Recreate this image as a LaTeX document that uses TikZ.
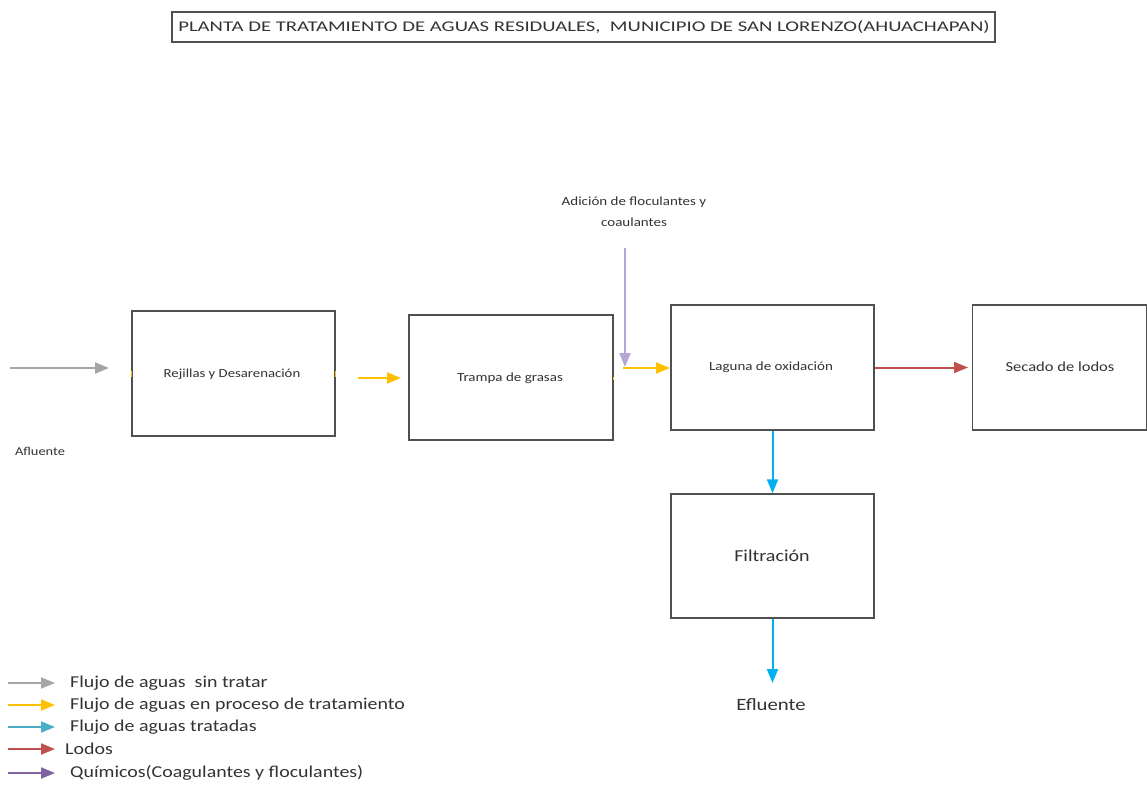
\documentclass[tikz,border=0pt]{standalone}
\usepackage{fontspec}
\setmainfont{Carlito}
\usetikzlibrary{arrows.meta}
\definecolor{boxline}{HTML}{505050}
\definecolor{raw}{HTML}{A6A6A6}
\definecolor{proc}{HTML}{FFC000}
\definecolor{clean}{HTML}{00B0F0}
\definecolor{cleanleg}{HTML}{4BACC6}
\definecolor{sludge}{HTML}{C0504D}
\definecolor{chem}{HTML}{B4A7D6}
\definecolor{chemleg}{HTML}{8064A2}
% wide-set text: font size, horizontal stretch, text
\newcommand{\widetext}[3]{\fontsize{#1}{#1}\selectfont\scalebox{#2}[1]{#3}}
\tikzset{
  unit/.style={draw=boxline, line width=1.5pt, fill=white, inner sep=0pt},
  lbl/.style={inner sep=0pt, text=black!80, anchor=center},
  flow/.style={line width=2pt, -{Triangle[length=14pt,width=11pt]}},
}
\begin{document}
\begin{tikzpicture}[x=1pt,y=-1pt]
\useasboundingbox (0,0) rectangle (1147,792);

% title
\node[draw=boxline, line width=1.3pt, minimum width=823pt, minimum height=30pt, inner sep=0pt] (title) at (583.5,27) {};
\node[lbl] (titletext) at (584,27) {\widetext{14.8}{1.4}{PLANTA DE TRATAMIENTO DE AGUAS RESIDUALES,\ \ MUNICIPIO DE SAN LORENZO(AHUACHAPAN)}};

% process units
\node[unit, minimum width=203pt, minimum height=125pt] (rej) at (233.5,373.5) {};
\node[lbl] (rejt) at (232,374) {\widetext{12.3}{1.2}{Rejillas y Desarenación}};

\node[unit, minimum width=204pt, minimum height=125pt] (tra) at (511,377.5) {};
\node[lbl] (trat) at (510,378) {\widetext{12.5}{1.2}{Trampa de grasas}};

\node[unit, minimum width=203pt, minimum height=125pt] (lag) at (772.5,367.5) {};
\node[lbl] (lagt) at (771,367) {\widetext{12.5}{1.2}{Laguna de oxidación}};

\node[unit, minimum width=174pt, minimum height=125pt] (sec) at (1059.5,367.5) {};
\node[lbl] (sect) at (1060,367) {\widetext{13.8}{1.2}{Secado de lodos}};

\node[unit, minimum width=203pt, minimum height=124pt] (fil) at (772.5,556) {};
\node[lbl] (filt) at (772,556) {\widetext{16.7}{1.2}{Filtración}};

% free ends and labels
\coordinate (in) at (10,368);
\coordinate (inend) at (109,368);
\node[lbl] (afl) at (40,451) {\widetext{12}{1.2}{Afluente}};
\node[lbl] (add1) at (634,202) {\widetext{12.5}{1.2}{Adición de floculantes y}};
\node[lbl] (add2) at (634,222) {\widetext{12.5}{1.2}{coaulantes}};
\coordinate (chemtop) at (625,248);
\coordinate (chemend) at (625,367);
\coordinate (y1) at (358,378);
\coordinate (y1end) at (401,378);
\coordinate (y2) at (623,368);
\coordinate (y2end) at (670,368);
\coordinate (redend) at (968,367.5);
\coordinate (effend) at (772.5,683);
\node[lbl] (efl) at (771,705) {\widetext{17.3}{1.2}{Efluente}};

% small stubs on the unit edges
\draw[proc, line width=1.2pt] (rej.west) ++(0,-3) -- ++(0,6);
\draw[proc, line width=1.2pt] (rej.east) ++(0,-3) -- ++(0,6);
\draw[proc, line width=1.2pt] (tra.east) ++(0,-1) -- ++(0,3);

% flows
\draw[flow, raw] (in) -- (inend);
\draw[flow, proc] (y1) -- (y1end);
\draw[flow, chem] (chemtop) -- (chemend);
\draw[flow, proc] (y2) -- (y2end);
\draw[flow, sludge] (lag.east) -- (redend);
\draw[flow, clean] (lag.south) -- (fil.north);
\draw[flow, clean] (fil.south) -- (effend);

% legend
\foreach \y/\c/\t/\dx in {683/raw/{Flujo de aguas\ \ sin tratar}/70,
                        705/proc/{Flujo de aguas en proceso de tratamiento}/70,
                        727/cleanleg/{Flujo de aguas tratadas}/70,
                        749/sludge/{Lodos}/65,
                        773/chemleg/{Químicos(Coagulantes y floculantes)}/70}{
  \coordinate (ls\y) at (8,\y);
  \coordinate (le\y) at (55,\y);
  \draw[flow, \c] (ls\y) -- (le\y);
  \node[inner sep=0pt, anchor=west, text=black!80] (lt\y) at (\dx,\y) {\widetext{16.6}{1.2}{\t}};
}
\end{tikzpicture}
\end{document}
